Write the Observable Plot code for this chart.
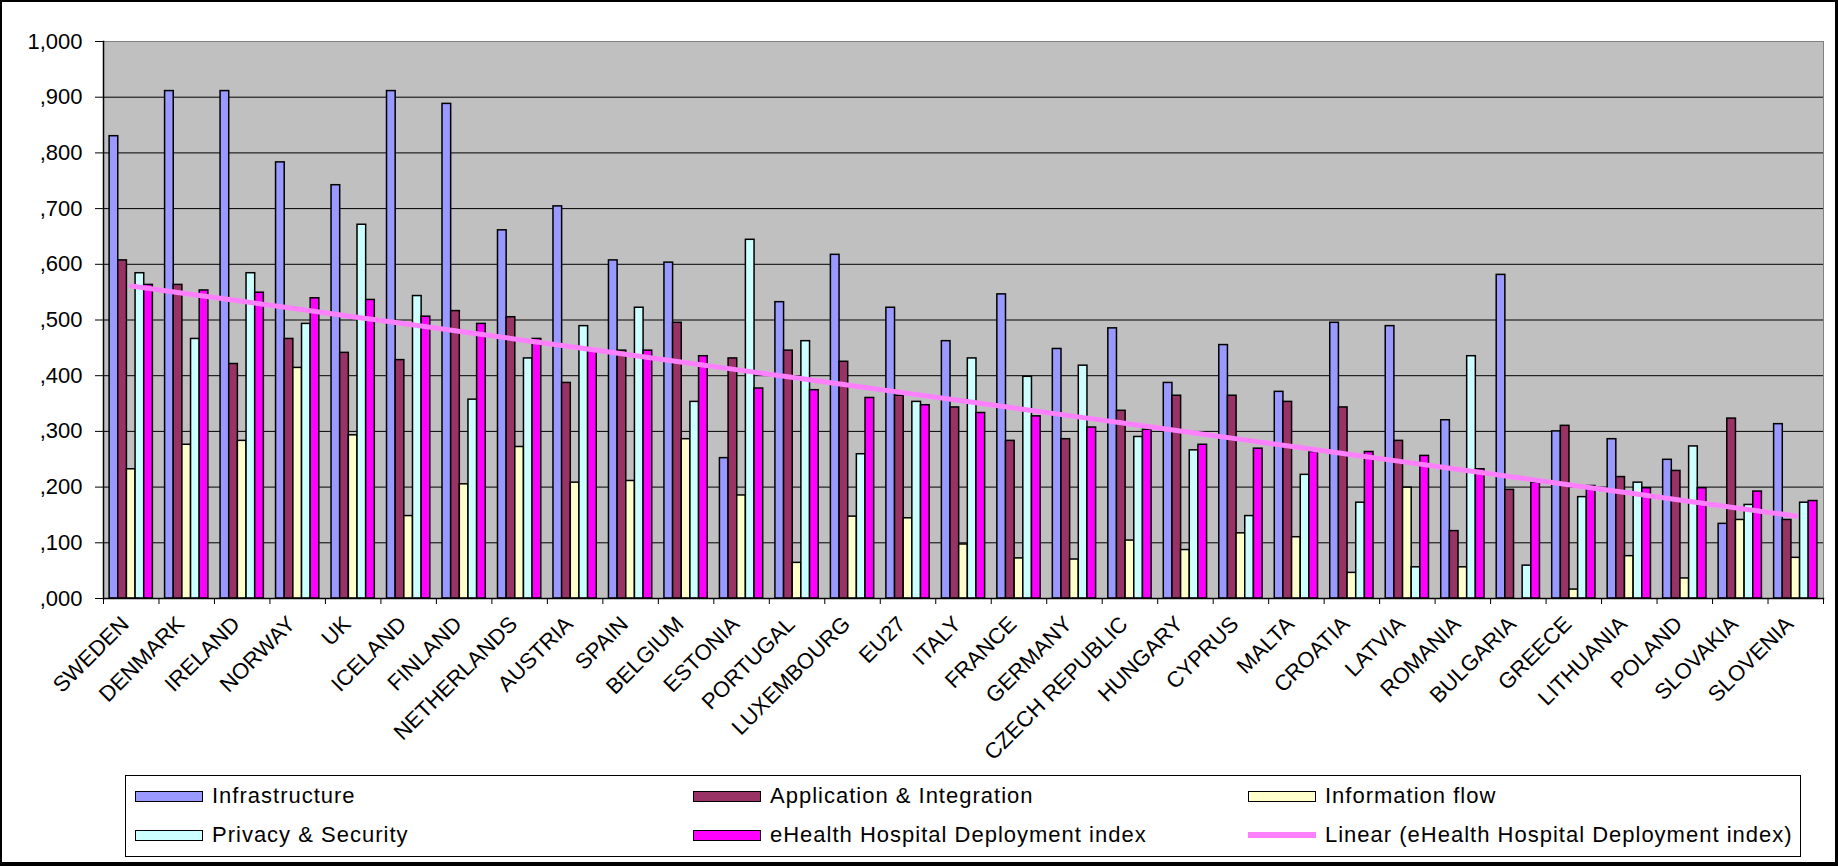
<!DOCTYPE html>
<html><head><meta charset="utf-8">
<script src="https://cdn.jsdelivr.net/npm/d3@7"></script>
<script src="https://cdn.jsdelivr.net/npm/@observablehq/plot@0.6"></script>
<style>
body{margin:0;background:#fff;}
#wrap{position:relative;width:1838px;height:866px;overflow:hidden;font-family:"Liberation Sans",Arial,sans-serif;background:#fff;}
#chart{position:absolute;left:0;top:0;}
#border{position:absolute;left:0;top:0;width:1838px;height:866px;box-sizing:border-box;border:2px solid #000;border-right-width:3px;border-bottom-width:4px;pointer-events:none;}
#legend{position:absolute;left:125px;top:775px;width:1676px;height:82px;box-sizing:border-box;border:1px solid #000;}
.item{position:absolute;display:flex;align-items:center;height:26px;font-size:22px;letter-spacing:1px;white-space:nowrap;color:#000;}
.sw{width:68px;height:11px;box-sizing:border-box;border:1.5px solid #000;margin-right:9px;flex:none;}
.ln{width:68px;height:6px;margin-right:9px;flex:none;}
</style></head>
<body>
<div id="wrap"><div id="chart"></div><div id="legend"></div><div id="border"></div></div>
<script>
const countries = ["SWEDEN","DENMARK","IRELAND","NORWAY","UK","ICELAND","FINLAND","NETHERLANDS","AUSTRIA","SPAIN","BELGIUM","ESTONIA","PORTUGAL","LUXEMBOURG","EU27","ITALY","FRANCE","GERMANY","CZECH REPUBLIC","HUNGARY","CYPRUS","MALTA","CROATIA","LATVIA","ROMANIA","BULGARIA","GREECE","LITHUANIA","POLAND","SLOVAKIA","SLOVENIA"];
const infrastructure = [0.830,0.911,0.911,0.783,0.742,0.911,0.888,0.661,0.704,0.607,0.603,0.252,0.532,0.617,0.522,0.462,0.546,0.448,0.485,0.387,0.455,0.371,0.495,0.489,0.320,0.581,0.300,0.286,0.249,0.134,0.313];
const application = [0.607,0.563,0.421,0.466,0.441,0.428,0.516,0.505,0.387,0.445,0.495,0.431,0.445,0.425,0.364,0.343,0.283,0.286,0.337,0.364,0.364,0.353,0.343,0.283,0.121,0.195,0.310,0.218,0.229,0.323,0.141];
const informationFlow = [0.232,0.276,0.283,0.414,0.293,0.148,0.205,0.272,0.208,0.211,0.286,0.185,0.064,0.147,0.144,0.097,0.072,0.070,0.104,0.087,0.117,0.110,0.046,0.199,0.056,0.000,0.016,0.076,0.036,0.141,0.073];
const privacy = [0.584,0.466,0.584,0.493,0.671,0.543,0.357,0.431,0.489,0.522,0.353,0.644,0.462,0.259,0.353,0.431,0.398,0.418,0.290,0.266,0.148,0.222,0.172,0.056,0.435,0.059,0.182,0.208,0.273,0.168,0.172];
const ehealth = [0.563,0.553,0.549,0.539,0.536,0.506,0.493,0.466,0.445,0.445,0.435,0.377,0.374,0.360,0.347,0.333,0.327,0.307,0.303,0.276,0.269,0.263,0.263,0.256,0.232,0.208,0.202,0.198,0.198,0.192,0.175];
const seriesNames = ["Infrastructure","Application & Integration","Information flow","Privacy & Security","eHealth Hospital Deployment index"];
const seriesColors = ["#9999FF","#993366","#FFFFCC","#CCFFFF","#FF00FF"];
const trendName = "Linear (eHealth Hospital Deployment index)";
const trendColor = "#FF80FF";
const yTicks = [0,0.1,0.2,0.3,0.4,0.5,0.6,0.7,0.8,0.9,1.0];
const gridTicks = [0.1,0.2,0.3,0.4,0.5,0.6,0.7,0.8,0.9];

const seriesValues = [infrastructure, application, informationFlow, privacy, ehealth];
const W = 1838, H = 770, mL = 103, mR = 15, mT = 41, mB = 172;
const n = countries.length;
const step = (W - mL - mR) / n;
const padIn = 0.22;
const bw = step * (1 - padIn) / seriesNames.length;
const rows = countries.flatMap((c, i) => seriesValues.map((vals, s) => ({country: c, series: s, value: vals[i]})));

// linear trendline (least squares on category index), as Excel does
const xs = countries.map((_, i) => i + 1);
const mx = d3.mean(xs), my = d3.mean(ehealth);
const slope = d3.sum(xs, (x, i) => (x - mx) * (ehealth[i] - my)) / d3.sum(xs, x => (x - mx) ** 2);
const intercept = my - slope * mx;
const trend = countries.map((c, i) => ({country: c, value: intercept + slope * (i + 1)}));

const fmt = v => d3.format(".3f")(v).replace(/^0\./, ",").replace(".", ",");

const chart = Plot.plot({
  width: W, height: H, marginLeft: mL, marginRight: mR, marginTop: mT, marginBottom: mB,
  style: {fontFamily: '"Liberation Sans", Arial, sans-serif', fontSize: "22px", color: "#000", background: "transparent", overflow: "visible"},
  x: {type: "band", domain: countries, paddingInner: padIn, paddingOuter: padIn / 2, align: 0.5, round: false, label: null},
  y: {domain: [0, 1], label: null},
  marks: [
    Plot.frame({fill: "#C0C0C0", stroke: "#808080"}),
    Plot.gridY(gridTicks, {stroke: "#000", strokeOpacity: 1, strokeWidth: 1}),
    ...seriesNames.map((name, s) => Plot.barY(rows.filter(r => r.series === s), {
      x: "country", y: "value", fill: seriesColors[s], stroke: "#000", strokeWidth: 1.5,
      insetLeft: s * bw, insetRight: (seriesNames.length - 1 - s) * bw
    })),
    Plot.lineY(trend, {x: "country", y: "value", stroke: trendColor, strokeWidth: 5}),
    Plot.frame({anchor: "left", stroke: "#000", strokeWidth: 1.5}),
    Plot.frame({anchor: "bottom", stroke: "#000", strokeWidth: 1.5}),
    Plot.axisY(yTicks, {tickSize: 8, tickPadding: 13, tickFormat: fmt, label: null}),
    Plot.axisX(countries, {tickSize: 6, tickFormat: () => "", dx: -step / 2, label: null}),
    Plot.axisX([countries[n - 1]], {tickSize: 6, tickFormat: () => "", dx: step / 2, label: null}),
    Plot.axisX(countries, {tickSize: 0, tickRotate: -45, tickPadding: 22, dx: -6, label: null})
  ]
});
document.getElementById("chart").appendChild(chart);

// legend
const legend = document.getElementById("legend");
const colX = [9, 567, 1122];
const rowY = [7, 46];
const items = seriesNames.map((name, s) => ({name, color: seriesColors[s], type: "box"}));
items.push({name: trendName, color: trendColor, type: "line"});
const order = [0, 1, 2, 3, 4, 5];
order.forEach((k, j) => {
  const it = items[k];
  const div = document.createElement("div");
  div.className = "item";
  div.style.left = colX[j % 3] + "px";
  div.style.top = rowY[Math.floor(j / 3)] + "px";
  const sw = document.createElement("div");
  sw.className = it.type === "box" ? "sw" : "ln";
  sw.style.background = it.color;
  const tx = document.createElement("span");
  tx.textContent = it.name;
  div.appendChild(sw); div.appendChild(tx);
  legend.appendChild(div);
});
</script>
</body></html>
